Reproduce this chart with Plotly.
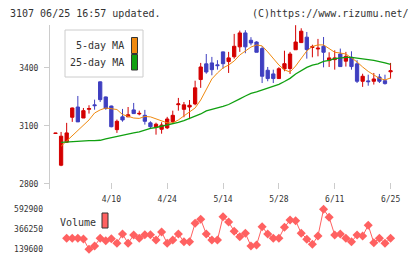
import plotly.graph_objects as go

# ---- data ----
idx = list(range(61))
opens = [3061, 2897, 3016, 3145, 3198, 3141, 3186, 3209, 3328, 3250,
         3203, 3081, 3147, 3147, 3183, 3162, 3155, 3116, 3093, 3083,
         3090, 3122, 3210, 3186, 3198, 3214, 3340, 3421, 3426, 3416,
         3483, 3433, 3458, 3509, 3581, 3543, 3534, 3500, 3388, 3369,
         3345, 3395, 3397, 3494, 3531, 3559, 3506, 3498, 3512, 3438,
         3443, 3472, 3435, 3455, 3421, 3331, 3333, 3331, 3353, 3334,
         3380]
highs = [3064, 3069, 3116, 3195, 3255, 3193, 3207, 3236, 3330, 3252,
         3205, 3133, 3188, 3198, 3219, 3179, 3183, 3124, 3117, 3119,
         3147, 3179, 3245, 3224, 3234, 3334, 3426, 3472, 3457, 3440,
         3485, 3483, 3576, 3593, 3595, 3559, 3538, 3512, 3405, 3391,
         3404, 3489, 3483, 3621, 3605, 3586, 3520, 3550, 3560, 3481,
         3491, 3500, 3483, 3486, 3440, 3370, 3365, 3374, 3369, 3365,
         3426]
lows = [3060, 2892, 3014, 3121, 3121, 3141, 3164, 3184, 3224, 3184,
        3093, 3064, 3122, 3147, 3162, 3155, 3107, 3084, 3055, 3060,
        3084, 3116, 3179, 3145, 3135, 3207, 3297, 3370, 3362, 3391,
        3396, 3374, 3448, 3483, 3476, 3517, 3481, 3322, 3331, 3322,
        3345, 3383, 3369, 3494, 3529, 3448, 3455, 3460, 3403, 3405,
        3391, 3405, 3407, 3391, 3322, 3302, 3308, 3314, 3322, 3314,
        3345]
closes = [3063, 3047, 3064, 3193, 3121, 3179, 3190, 3205, 3236, 3190,
          3096, 3124, 3131, 3158, 3164, 3165, 3124, 3096, 3109, 3105,
          3136, 3155, 3214, 3209, 3207, 3297, 3405, 3379, 3391, 3412,
          3422, 3452, 3512, 3581, 3509, 3529, 3481, 3357, 3345, 3345,
          3396, 3422, 3472, 3534, 3590, 3495, 3510, 3502, 3481, 3452,
          3452, 3407, 3460, 3407, 3331, 3357, 3329, 3343, 3331, 3319,
          3385]

ma_idx = list(range(1, 61))
ma5 = [2995, 3022, 3053, 3079, 3105, 3131, 3167, 3183, 3193, 3190,
       3185, 3159, 3152, 3141, 3139, 3149, 3147, 3136, 3123, 3116,
       3116, 3131, 3152, 3172, 3193, 3234, 3286, 3343, 3374, 3400,
       3415, 3436, 3467, 3488, 3508, 3519, 3514, 3483, 3447, 3415,
       3390, 3379, 3410, 3452, 3488, 3511, 3519, 3519, 3501, 3481,
       3477, 3472, 3452, 3431, 3405, 3382, 3364, 3346, 3338, 3348]
ma25 = [3015, 3017, 3021, 3022, 3024, 3024, 3024, 3026, 3033, 3040,
        3046, 3051, 3059, 3064, 3069, 3079, 3087, 3092, 3098, 3104,
        3110, 3118, 3128, 3139, 3149, 3162, 3178, 3185, 3193, 3201,
        3211, 3224, 3240, 3255, 3268, 3276, 3286, 3297, 3304, 3315,
        3330, 3346, 3369, 3387, 3403, 3415, 3421, 3434, 3439, 3448,
        3452, 3455, 3455, 3452, 3449, 3443, 3439, 3434, 3426, 3418]

vol_idx = list(range(2, 61))
volume = [264300, 264300, 264300, 256300, 139600, 177000, 264300, 237100, 259700, 207600,
          313000, 207600, 301700, 264300, 305100, 305100, 245000, 335700, 207600, 245000,
          313000, 225700, 225700, 434300, 479600, 313000, 245000, 245000, 509100, 449000,
          343600, 282400, 320900, 177000, 188300, 395700, 313000, 264300, 264300, 388900,
          471700, 463700, 320900, 252900, 196300, 290300, 592900, 502300, 301700, 313000,
          264300, 225700, 301700, 290300, 411600, 214400, 264300, 207600, 264300]

date_ticks = [10, 20, 30, 40, 50, 60]
date_labels = ['4/10', '4/24', '5/14', '5/28', '6/11', '6/25']
price_ticks = [2800, 3100, 3400]
vol_ticks = [139600, 366250, 592900]
vol_labels = ['139600', '366250', '592900']

# ---- styling ----
W, H = 420, 259
RED = '#d40000'
BLUE = '#3f3fc0'
ORANGE = '#f08a10'
GREEN = '#10a010'
VOLC = '#ff6161'
MONO = 'DejaVu Sans Mono'

def px_x(p):
    return p / W

def px_y(p):
    return 1 - p / H

fig = go.Figure()

fig.add_trace(go.Candlestick(
    x=idx, open=opens, high=highs, low=lows, close=closes,
    increasing=dict(line=dict(color=RED, width=1), fillcolor=RED),
    decreasing=dict(line=dict(color=BLUE, width=1), fillcolor=BLUE),
    whiskerwidth=0, xaxis='x', yaxis='y', showlegend=False))

fig.add_trace(go.Scatter(x=ma_idx, y=ma5, mode='lines',
                         line=dict(color=ORANGE, width=1), xaxis='x', yaxis='y',
                         showlegend=False))
fig.add_trace(go.Scatter(x=ma_idx, y=ma25, mode='lines',
                         line=dict(color=GREEN, width=1.3), xaxis='x', yaxis='y',
                         showlegend=False))

fig.add_trace(go.Scatter(x=vol_idx, y=volume, mode='lines+markers',
                         line=dict(color=VOLC, width=1),
                         marker=dict(symbol='diamond', size=7, color=VOLC),
                         xaxis='x2', yaxis='y2', showlegend=False))

xr = [-0.985, 63.48]
xdom = [px_x(50), px_x(410)]

fig.update_layout(
    width=W, height=H,
    margin=dict(l=0, r=0, t=0, b=0),
    paper_bgcolor='white', plot_bgcolor='white',
    boxgap=0.16,
    xaxis=dict(domain=xdom, range=xr, anchor='y',
               tickmode='array', tickvals=date_ticks, ticktext=date_labels,
               ticks='inside', ticklen=6, tickcolor='#cccccc',
               tickfont=dict(family=MONO, size=8, color='#333333'),
               ticklabelstandoff=4,
               showgrid=False, zeroline=False, showline=False,
               rangeslider=dict(visible=False)),
    yaxis=dict(domain=[px_y(189), px_y(25)], range=[2774, 3622], anchor='x',
               tickmode='array', tickvals=price_ticks,
               ticks='outside', ticklen=5, tickcolor='#cccccc',
               tickfont=dict(family=MONO, size=8, color='#333333'),
               ticklabelstandoff=4,
               showgrid=False, zeroline=False,
               showline=True, linecolor='#cccccc', linewidth=1),
    xaxis2=dict(domain=xdom, range=xr, anchor='y2',
                showticklabels=False, ticks='', showgrid=False,
                zeroline=False, showline=False),
    yaxis2=dict(domain=[px_y(255), px_y(203)], range=[75000, 664300], anchor='x2',
                tickmode='array', tickvals=vol_ticks, ticktext=vol_labels,
                ticks='', tickfont=dict(family=MONO, size=8, color='#333333'),
                ticklabelstandoff=6,
                showgrid=False, zeroline=False, showline=False),
)

shapes = []
annotations = []

# header texts
annotations.append(dict(x=px_x(8), y=px_y(13), xref='paper', yref='paper',
                        text='3107 06/25 16:57 updated.', showarrow=False,
                        xanchor='left', yanchor='middle',
                        font=dict(family=MONO, size=10, color='#333333')))
annotations.append(dict(x=px_x(411), y=px_y(13), xref='paper', yref='paper',
                        text='(C)https://www.rizumu.net/', showarrow=False,
                        xanchor='right', yanchor='middle',
                        font=dict(family=MONO, size=10, color='#333333')))

# price legend box
shapes.append(dict(type='rect', xref='paper', yref='paper',
                   x0=px_x(65), x1=px_x(143), y0=px_y(77), y1=px_y(30),
                   line=dict(color='#cccccc', width=1), fillcolor='white'))
shapes.append(dict(type='rect', xref='paper', yref='paper',
                   x0=px_x(131.5), x1=px_x(137.5), y0=px_y(53.5), y1=px_y(37.5),
                   line=dict(color='#333333', width=1), fillcolor=ORANGE))
shapes.append(dict(type='rect', xref='paper', yref='paper',
                   x0=px_x(131.5), x1=px_x(137.5), y0=px_y(70), y1=px_y(54.5),
                   line=dict(color='#333333', width=1), fillcolor=GREEN))
annotations.append(dict(x=px_x(126), y=px_y(46), xref='paper', yref='paper',
                        text='5-day MA', showarrow=False, xanchor='right',
                        yanchor='middle', font=dict(family=MONO, size=10, color='#333333')))
annotations.append(dict(x=px_x(126), y=px_y(62.5), xref='paper', yref='paper',
                        text='25-day MA', showarrow=False, xanchor='right',
                        yanchor='middle', font=dict(family=MONO, size=10, color='#333333')))

# volume legend
shapes.append(dict(type='rect', xref='paper', yref='paper',
                   x0=px_x(102), x1=px_x(108), y0=px_y(228), y1=px_y(213),
                   line=dict(color='#333333', width=1), fillcolor=VOLC))
annotations.append(dict(x=px_x(58), y=px_y(222), xref='paper', yref='paper',
                        text='Volume', showarrow=False, xanchor='left',
                        yanchor='middle', font=dict(family=MONO, size=10, color='#333333')))

fig.update_layout(shapes=shapes, annotations=annotations)

fig.write_html('out.html')
